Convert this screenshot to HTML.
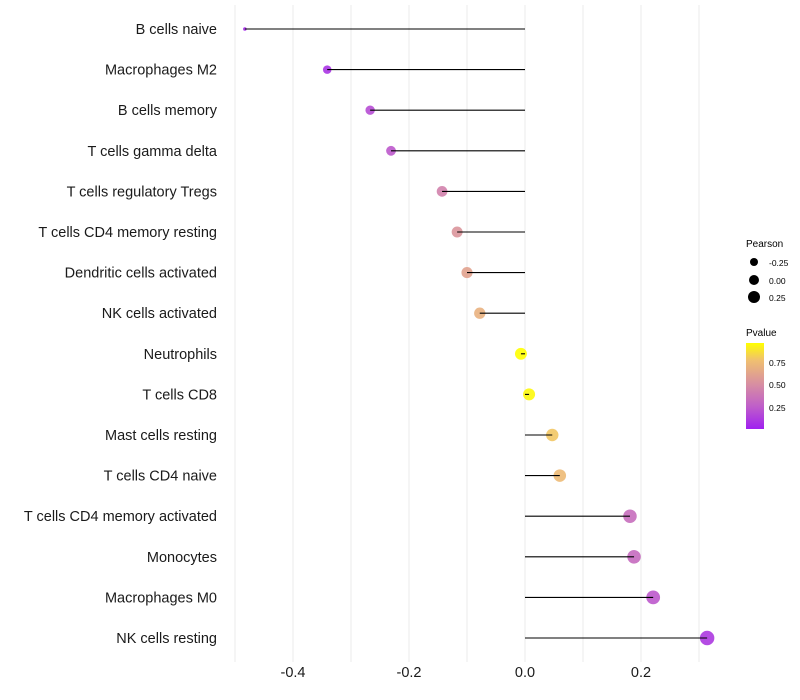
<!DOCTYPE html>
<html><head><meta charset="utf-8"><style>
body{margin:0;background:#fff;font-family:"Liberation Sans",sans-serif}
</style></head><body>
<svg id="chart" width="800" height="700" xmlns="http://www.w3.org/2000/svg" style="display:block">
<defs>
<linearGradient id="pgrad" x1="0" y1="1" x2="0" y2="0">
<stop offset="0" stop-color="#a020f0"/><stop offset="0.27" stop-color="#c060c8"/>
<stop offset="0.53" stop-color="#d890a0"/><stop offset="0.8" stop-color="#f0c070"/>
<stop offset="1" stop-color="#ffff00"/>
</linearGradient>
</defs>
<g id="grid"></g><g id="dots"></g><g id="marks"></g><g id="labels"></g>
<g font-size="10" fill="#000">
<text x="746" y="247">Pearson</text>
<circle cx="754" cy="262" r="4"/><text x="769" y="266" font-size="8.5">-0.25</text>
<circle cx="754" cy="280" r="5"/><text x="769" y="284" font-size="8.5">0.00</text>
<circle cx="754" cy="297" r="6"/><text x="769" y="301" font-size="8.5">0.25</text>
<text x="746" y="336">Pvalue</text>
<rect x="746" y="343" width="18" height="86" fill="url(#pgrad)"/>
<text x="769" y="366" font-size="8.5">0.75</text>
<text x="769" y="388" font-size="8.5">0.50</text>
<text x="769" y="411" font-size="8.5">0.25</text>
</g>
</svg>
<script>
const categories=["B cells naive","Macrophages M2","B cells memory","T cells gamma delta","T cells regulatory  Tregs","T cells CD4 memory resting","Dendritic cells activated","NK cells activated","Neutrophils","T cells CD8","Mast cells resting","T cells CD4 naive","T cells CD4 memory activated","Monocytes","Macrophages M0","NK cells resting"];
const pearson=[-0.483,-0.341,-0.267,-0.231,-0.143,-0.117,-0.100,-0.078,-0.007,0.007,0.047,0.060,0.181,0.188,0.221,0.314];
const pvalue=[0.06,0.1,0.2,0.25,0.45,0.55,0.62,0.7,0.97,0.95,0.8,0.75,0.35,0.33,0.25,0.12];
const xticks=[-0.4,-0.2,0.0,0.2];
const xtickLabels=["-0.4","-0.2","0.0","0.2"];
const gridVals=[-0.5,-0.4,-0.3,-0.2,-0.1,0,0.1,0.2,0.3];
const NS="http://www.w3.org/2000/svg";
const xs=v=>525+v*580, ys=i=>29+i*40.6;
const stops=[[0,[160,32,240]],[0.27,[192,96,200]],[0.53,[216,144,160]],[0.8,[240,192,112]],[1,[255,255,0]]];
function col(p){p=(p-0.02)/0.95;p=Math.max(0,Math.min(1,p));for(let i=1;i<stops.length;i++){if(p<=stops[i][0]){const a=stops[i-1],b=stops[i],t=(p-a[0])/(b[0]-a[0]);return "rgb("+a[1].map((c,k)=>Math.round(c+(b[1][k]-c)*t)).join(",")+")";}}return "rgb(255,255,0)";}
function rad(v){if(v<-0.42)return 1.8;return Math.sqrt(Math.max(4,36+52*v));}
function mk(t,a,parent){const e=document.createElementNS(NS,t);for(const k in a)e.setAttribute(k,a[k]);document.getElementById(parent).appendChild(e);return e;}
gridVals.forEach(v=>{const l=mk("line",{x1:xs(v),x2:xs(v),y1:5,y2:662,stroke:"#ebebeb","stroke-width":1},"grid");

});
categories.forEach((c,i)=>{const y=ys(i);
const s=mk("line",{x1:xs(0),x2:xs(pearson[i]),y1:y,y2:y,stroke:"#000","stroke-width":1.1},"marks");


const d=mk("circle",{cx:xs(pearson[i]),cy:y,r:rad(pearson[i]),fill:col(pvalue[i]),"fill-opacity":0.9},"dots");


const t=mk("text",{x:217,y:y+5,"text-anchor":"end","font-size":14.5,fill:"#1a1a1a"},"labels");
t.textContent=c;

});
xticks.forEach((v,i)=>{const t=mk("text",{x:xs(v),y:677,"text-anchor":"middle","font-size":14.5,fill:"#1a1a1a"},"labels");
t.textContent=xtickLabels[i];

});
</script>
</body></html>
